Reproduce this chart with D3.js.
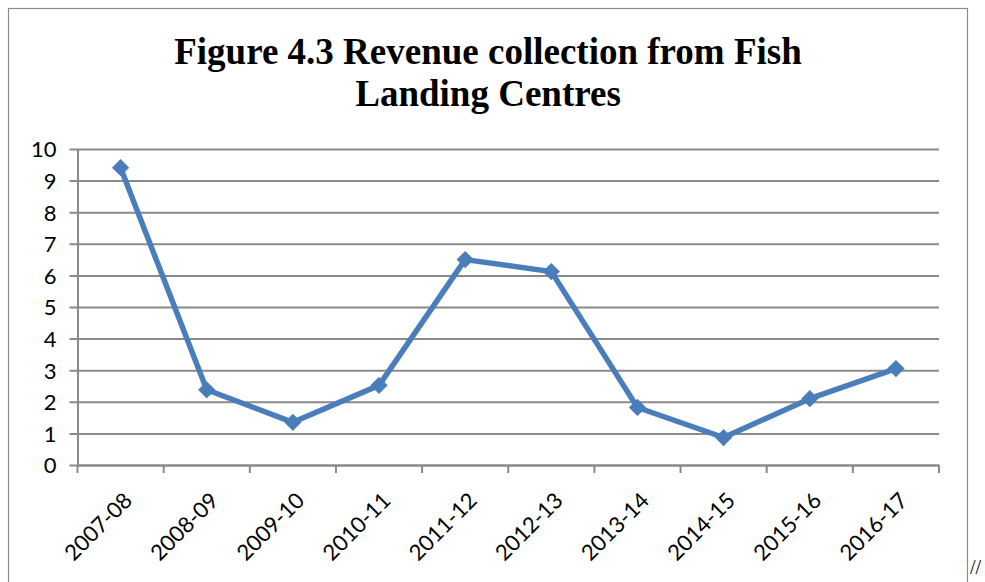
<!DOCTYPE html>
<html>
<head>
<meta charset="utf-8">
<script src="https://cdn.jsdelivr.net/npm/d3@7"></script>
<style>
  html, body { margin: 0; padding: 0; background: #fff; overflow: hidden; }
  svg { display: block; }
</style>
</head>
<body>
<svg id="chart" width="985" height="582"></svg>
<script>
// Revenue collected at fish landing centres by financial year
const years = ["2007-08", "2008-09", "2009-10", "2010-11", "2011-12",
               "2012-13", "2013-14", "2014-15", "2015-16", "2016-17"];
const revenue = [9.41, 2.38, 1.35, 2.52, 6.5, 6.12, 1.82, 0.87, 2.1, 3.05];
const yTicks = [0, 1, 2, 3, 4, 5, 6, 7, 8, 9, 10];
const titleLines = ["Figure 4.3 Revenue collection from Fish", "Landing Centres"];

const svg = d3.select("#chart");
const W = 985, H = 582;
const plot = { left: 77.5, right: 939, top: 149, bottom: 465 };

// outer frame of the chart area
svg.append("rect")
  .attr("x", 8.5).attr("y", 8.5)
  .attr("width", 959).attr("height", H + 20)
  .attr("fill", "#fff")
  .attr("stroke", "#8c8c8c").attr("stroke-width", 1.2);

// title
svg.append("g").selectAll("text")
  .data(titleLines)
  .join("text")
  .attr("x", 488)
  .attr("y", (d, i) => 64 + i * 42)
  .attr("text-anchor", "middle")
  .attr("font-family", "'Liberation Serif', 'Times New Roman', serif")
  .attr("font-weight", "bold")
  .attr("font-size", 37)
  .attr("fill", "#000")
  .text(d => d);

const x = d3.scaleBand().domain(years).range([plot.left, plot.right]).padding(0);
const y = d3.scaleLinear().domain([0, 10]).range([plot.bottom, plot.top]);

const axisFont = "Lato, 'Open Sans', 'Liberation Sans', sans-serif";
const gridColor = "#8a8a8a";

// horizontal gridlines + y axis
const yAxis = d3.axisLeft(y)
  .tickValues(yTicks)
  .tickSize(-(plot.right - plot.left))
  .tickSizeOuter(0)
  .tickFormat(d3.format("d"));

const gy = svg.append("g")
  .attr("transform", `translate(${plot.left},0)`)
  .call(yAxis);
gy.select(".domain").attr("stroke", gridColor).attr("stroke-width", 2);
gy.selectAll(".tick line").attr("stroke", gridColor).attr("stroke-width", 2)
  .attr("x1", -8);
gy.selectAll(".tick text")
  .attr("font-family", axisFont)
  .attr("font-size", 22)
  .attr("fill", "#000")
  .attr("x", -21)
  .attr("dy", "0.36em");

// category axis with boundary ticks
const xAxis = d3.axisBottom(x).tickSize(0).tickSizeOuter(0);
const gx = svg.append("g")
  .attr("transform", `translate(0,${plot.bottom})`)
  .call(xAxis);
gx.select(".domain").attr("stroke", gridColor).attr("stroke-width", 2);
gx.selectAll(".tick line").remove();

const bounds = years.map(d => x(d)).concat([x(years[years.length - 1]) + x.bandwidth()]);
gx.selectAll("line.bound")
  .data(bounds)
  .join("line")
  .attr("class", "bound")
  .attr("x1", d => d).attr("x2", d => d)
  .attr("y1", 0).attr("y2", 8)
  .attr("stroke", gridColor).attr("stroke-width", 2);

gx.selectAll(".tick text")
  .attr("font-family", axisFont)
  .attr("font-size", 22)
  .attr("fill", "#000")
  .attr("text-anchor", "end")
  .attr("y", 0).attr("dy", 0)
  .attr("transform", "translate(13,37) rotate(-45)");

// revenue line
const cx = d => x(d) + x.bandwidth() / 2;
const line = d3.line()
  .x((d, i) => cx(years[i]))
  .y(d => y(d));

svg.append("path")
  .datum(revenue)
  .attr("fill", "none")
  .attr("stroke", "#4a7ebb")
  .attr("stroke-width", 5.5)
  .attr("stroke-linejoin", "round")
  .attr("d", line);

// diamond markers
const diamond = d3.symbol().type(d3.symbolDiamond2).size(190);
svg.append("g").selectAll("path")
  .data(revenue)
  .join("path")
  .attr("transform", (d, i) => `translate(${cx(years[i])},${y(d)})`)
  .attr("d", diamond)
  .attr("fill", "#4a7ebb");

// slash marks at the lower right edge of the page
svg.append("text")
  .attr("x", 970).attr("y", 574)
  .attr("font-family", "'Liberation Serif', serif")
  .attr("font-size", 20)
  .attr("fill", "#000")
  .text("//");
</script>
</body>
</html>
